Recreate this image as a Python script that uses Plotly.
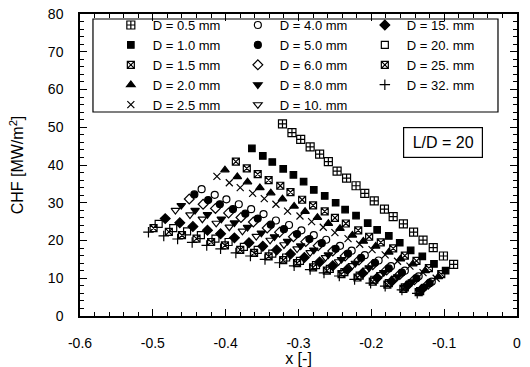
import plotly.graph_objects as go

# ---------------- data ----------------
# exit quality x [-] and CHF [MW/m^2] for each tube diameter D
x_d05 = [-0.322, -0.309, -0.297, -0.284, -0.271, -0.259, -0.247, -0.234, -0.221, -0.209,
         -0.196, -0.182, -0.170, -0.156, -0.142, -0.129, -0.115, -0.101, -0.087]
chf_d05 = [50.9, 48.6, 46.8, 44.8, 42.9, 40.9, 38.4, 36.5, 34.5, 32.5,
           30.5, 28.3, 26.3, 24.4, 22.2, 20.1, 18.1, 15.9, 13.7]

x_d10 = [-0.364, -0.349, -0.336, -0.321, -0.307, -0.293, -0.279, -0.264, -0.249, -0.236,
         -0.221, -0.205, -0.192, -0.176, -0.161, -0.146, -0.130, -0.114, -0.098]
chf_d10 = [44.4, 42.4, 40.8, 39.0, 37.4, 35.6, 33.4, 31.8, 30.0, 28.2,
           26.6, 24.6, 22.8, 21.2, 19.4, 17.4, 15.8, 13.8, 12.0]

x_d15 = [-0.386, -0.371, -0.356, -0.341, -0.325, -0.311, -0.295, -0.280, -0.264, -0.250,
         -0.235, -0.218, -0.203, -0.187, -0.170, -0.154, -0.138, -0.121, -0.104]
chf_d15 = [40.9, 39.1, 37.6, 36.0, 34.5, 32.8, 30.8, 29.3, 27.7, 26.0,
           24.5, 22.7, 21.0, 19.5, 17.9, 16.0, 14.6, 12.7, 11.1]

x_d20 = [-0.401, -0.384, -0.370, -0.353, -0.338, -0.322, -0.306, -0.291, -0.274, -0.259,
         -0.243, -0.226, -0.211, -0.194, -0.176, -0.160, -0.143, -0.126, -0.108]
chf_d20 = [38.7, 36.9, 35.5, 34.0, 32.6, 31.0, 29.1, 27.7, 26.1, 24.5,
           23.2, 21.4, 19.8, 18.5, 16.9, 15.1, 13.8, 12.0, 10.4]

x_d25 = [-0.412, -0.395, -0.380, -0.363, -0.347, -0.331, -0.315, -0.298, -0.282, -0.266,
         -0.250, -0.232, -0.216, -0.199, -0.181, -0.164, -0.147, -0.129, -0.111]
chf_d25 = [37.0, 35.3, 34.0, 32.5, 31.1, 29.6, 27.8, 26.5, 25.0, 23.5,
           22.1, 20.5, 19.0, 17.6, 16.2, 14.5, 13.2, 11.5, 10.0]

x_d40 = [-0.433, -0.415, -0.399, -0.382, -0.365, -0.348, -0.331, -0.313, -0.296, -0.279,
         -0.262, -0.243, -0.227, -0.209, -0.190, -0.173, -0.154, -0.135, -0.117]
chf_d40 = [33.6, 32.1, 30.9, 29.6, 28.3, 27.0, 25.3, 24.1, 22.7, 21.4,
           20.2, 18.6, 17.3, 16.1, 14.7, 13.2, 12.0, 10.5, 9.1]

x_d50 = [-0.443, -0.424, -0.408, -0.390, -0.373, -0.356, -0.338, -0.320, -0.302, -0.285,
         -0.268, -0.249, -0.232, -0.214, -0.195, -0.176, -0.158, -0.138, -0.120]
chf_d50 = [32.2, 30.7, 29.6, 28.3, 27.1, 25.8, 24.2, 23.0, 21.7, 20.4,
           19.3, 17.8, 16.5, 15.4, 14.1, 12.6, 11.5, 10.0, 8.7]

x_d60 = [-0.450, -0.431, -0.414, -0.396, -0.379, -0.362, -0.343, -0.326, -0.307, -0.290,
         -0.273, -0.253, -0.236, -0.217, -0.198, -0.179, -0.161, -0.141, -0.122]
chf_d60 = [31.0, 29.6, 28.5, 27.3, 26.1, 24.9, 23.3, 22.2, 21.0, 19.7,
           18.6, 17.2, 15.9, 14.8, 13.6, 12.2, 11.0, 9.6, 8.4]

x_d80 = [-0.461, -0.442, -0.425, -0.406, -0.388, -0.370, -0.351, -0.333, -0.315, -0.297,
         -0.279, -0.259, -0.241, -0.222, -0.203, -0.183, -0.164, -0.144, -0.125]
chf_d80 = [29.3, 28.0, 26.9, 25.7, 24.7, 23.5, 22.0, 21.0, 19.8, 18.6,
           17.5, 16.2, 15.0, 14.0, 12.8, 11.5, 10.4, 9.1, 7.9]

x_d100 = [-0.469, -0.449, -0.432, -0.413, -0.395, -0.377, -0.358, -0.339, -0.320, -0.302,
          -0.284, -0.263, -0.245, -0.226, -0.206, -0.187, -0.167, -0.147, -0.127]
chf_d100 = [28.0, 26.8, 25.7, 24.6, 23.6, 22.5, 21.1, 20.1, 18.9, 17.8,
            16.8, 15.5, 14.4, 13.4, 12.2, 11.0, 10.0, 8.7, 7.6]

x_d150 = [-0.483, -0.463, -0.445, -0.425, -0.407, -0.388, -0.368, -0.349, -0.330, -0.311,
          -0.292, -0.271, -0.253, -0.233, -0.212, -0.192, -0.172, -0.151, -0.131]
chf_d150 = [25.8, 24.7, 23.7, 22.7, 21.8, 20.7, 19.4, 18.5, 17.5, 16.4,
            15.5, 14.3, 13.3, 12.3, 11.3, 10.1, 9.2, 8.0, 7.0]

x_d200 = [-0.492, -0.472, -0.453, -0.434, -0.414, -0.396, -0.375, -0.356, -0.336, -0.317,
          -0.298, -0.276, -0.257, -0.237, -0.216, -0.196, -0.176, -0.154, -0.133]
chf_d200 = [24.4, 23.3, 22.4, 21.4, 20.5, 19.6, 18.3, 17.5, 16.5, 15.5,
            14.6, 13.5, 12.5, 11.6, 10.7, 9.6, 8.7, 7.6, 6.6]

x_d250 = [-0.499, -0.478, -0.460, -0.440, -0.420, -0.401, -0.380, -0.361, -0.341, -0.321,
          -0.302, -0.280, -0.261, -0.241, -0.219, -0.198, -0.178, -0.156, -0.135]
chf_d250 = [23.3, 22.3, 21.4, 20.5, 19.6, 18.7, 17.5, 16.7, 15.8, 14.8,
            14.0, 12.9, 12.0, 11.1, 10.2, 9.1, 8.3, 7.2, 6.3]

x_d320 = [-0.506, -0.485, -0.466, -0.446, -0.426, -0.407, -0.386, -0.366, -0.346, -0.326,
          -0.306, -0.284, -0.265, -0.244, -0.223, -0.201, -0.181, -0.158, -0.137]
chf_d320 = [22.2, 21.2, 20.4, 19.5, 18.7, 17.8, 16.7, 15.9, 15.0, 14.1,
            13.3, 12.3, 11.4, 10.6, 9.7, 8.7, 7.9, 6.9, 6.0]

x_ticks = [-0.6, -0.5, -0.4, -0.3, -0.2, -0.1, 0.0]
x_tick_labels = ["-0.6", "-0.5", "-0.4", "-0.3", "-0.2", "-0.1", "0"]
y_ticks = [0, 10, 20, 30, 40, 50, 60, 70, 80]
y_tick_labels = ["0", "10", "20", "30", "40", "50", "60", "70", "80"]
annotation_text = "L/D = 20"

# ---------------- styles ----------------
FONT = "Liberation Sans, Arial, sans-serif"
series = {
    "D = 0.5 mm": (x_d05, chf_d05, "square-cross-open", 8),
    "D = 1.0 mm": (x_d10, chf_d10, "square", 6.5),
    "D = 1.5 mm": (x_d15, chf_d15, "square-x-open", 7),
    "D = 2.0 mm": (x_d20, chf_d20, "triangle-up", 7.5),
    "D = 2.5 mm": (x_d25, chf_d25, "x-thin-open", 7),
    "D = 4.0 mm": (x_d40, chf_d40, "circle-open", 7),
    "D = 5.0 mm": (x_d50, chf_d50, "circle", 7),
    "D = 6.0 mm": (x_d60, chf_d60, "diamond-open", 7.5),
    "D = 8.0 mm": (x_d80, chf_d80, "triangle-down", 7.5),
    "D = 10. mm": (x_d100, chf_d100, "triangle-down-open", 7.5),
    "D = 15. mm": (x_d150, chf_d150, "diamond", 7.5),
    "D = 20. mm": (x_d200, chf_d200, "square-open", 7),
    "D = 25. mm": (x_d250, chf_d250, "square-x-open", 7),
    "D = 32. mm": (x_d320, chf_d320, "cross-thin-open", 7.5),
}
legend_order = ["D = 0.5 mm", "D = 4.0 mm", "D = 15. mm",
                "D = 1.0 mm", "D = 5.0 mm", "D = 20. mm",
                "D = 1.5 mm", "D = 6.0 mm", "D = 25. mm",
                "D = 2.0 mm", "D = 8.0 mm", "D = 32. mm",
                "D = 2.5 mm", "D = 10. mm"]

fig = go.Figure()
for name in legend_order:
    xs, ys, sym, size = series[name]
    fig.add_trace(go.Scatter(
        x=xs, y=ys, mode="markers", name=name,
        marker=dict(symbol=sym, size=size, color="black",
                    line=dict(color="black", width=1.2)),
    ))

axis_common = dict(
    showline=True, linecolor="black", linewidth=1.5, mirror="allticks",
    ticks="inside", ticklen=7, tickwidth=1.2, tickcolor="black",
    showgrid=False, zeroline=False, automargin=False,
    tickfont=dict(family=FONT, size=14, color="black"),
)
fig.update_xaxes(
    range=[-0.6, 0], tickmode="array", tickvals=x_ticks, ticktext=x_tick_labels,
    minor=dict(tickmode="linear", tick0=0, dtick=0.02, ticks="inside", ticklen=4,
               tickwidth=1, tickcolor="black"),
    title=dict(text="x [-]", font=dict(family=FONT, size=16, color="black"), standoff=7),
    ticklabelstandoff=13,
    **axis_common,
)
fig.update_yaxes(
    range=[0, 80], tickmode="array", tickvals=y_ticks, ticktext=y_tick_labels,
    minor=dict(tickmode="linear", tick0=0, dtick=2, ticks="inside", ticklen=4,
               tickwidth=1, tickcolor="black"),
    title=dict(text="CHF [MW/m<sup>2</sup>]", font=dict(family=FONT, size=16, color="black"),
               standoff=20),
    ticklabelstandoff=12,
    **axis_common,
)

# frame of the legend block (legend entries themselves are plotly's own legend)
fig.add_shape(type="rect", xref="paper", yref="paper",
              x0=0.0297, x1=0.9565, y0=0.6755, y1=0.9834,
              line=dict(color="black", width=1.2), fillcolor="rgba(0,0,0,0)", layer="above")

fig.add_annotation(
    xref="paper", yref="paper", x=0.831, y=0.573, xanchor="center", yanchor="middle",
    text=annotation_text, showarrow=False,
    font=dict(family=FONT, size=16, color="black"),
    width=76, height=27, borderpad=1,
    bordercolor="black", borderwidth=1.2, bgcolor="white",
)

fig.update_layout(
    width=530, height=367, autosize=False,
    margin=dict(l=80, r=13, t=14, b=51, autoexpand=False),
    paper_bgcolor="white", plot_bgcolor="white",
    font=dict(family=FONT, color="black"),
    legend=dict(
        orientation="h", x=0.066, y=1.013, xanchor="left", yanchor="top",
        entrywidth=78, entrywidthmode="pixels", itemwidth=34,
        borderwidth=0, bgcolor="rgba(0,0,0,0)",
        font=dict(family=FONT, size=13, color="black"),
    ),
)

fig.write_html("out.html")
